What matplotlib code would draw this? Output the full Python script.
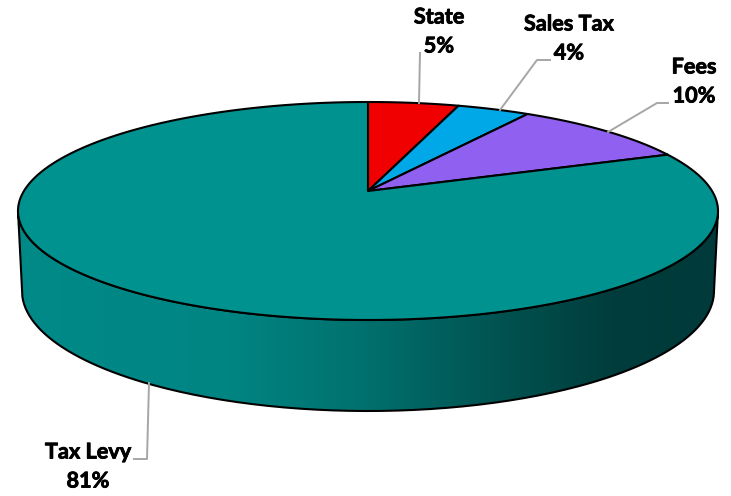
# -*- coding: utf-8 -*-
"""Revenue sources drawn as a tilted 3D pie."""

import numpy as np
import matplotlib
matplotlib.use("Agg")
import matplotlib.pyplot as plt
import matplotlib.patheffects as pe
from matplotlib.colors import LinearSegmentedColormap
from matplotlib.patches import PathPatch, Polygon
from matplotlib.path import Path

labels = ["State", "Sales Tax", "Fees", "Tax Levy"]
shares = [5, 4, 10, 81]
colours = ["#f00000", "#00a8e8", "#9060f0", "#00928f"]

# Pie geometry, in figure pixels
CX = 368.0
APEX_Y = 191.0
TOP_Y = 102.0
BOTTOM_Y = 320.0
HALF_WIDTH = 350.0

# Tilt of the disc: far side is squeezed, near side stretched
ratio = (BOTTOM_Y - APEX_Y) / (APEX_Y - TOP_Y)
tilt = (ratio - 1) / (ratio + 1)
scale_y = (APEX_Y - TOP_Y) * (1 + tilt)
scale_x = HALF_WIDTH * np.sqrt(1 - tilt ** 2)


def rim(theta):
    """Project clockwise-from-top angles on to the top face."""
    u = np.sin(theta)
    v = np.cos(theta)
    w = 1 + tilt * v
    return np.column_stack((CX + scale_x * u / w, APEX_Y - scale_y * v / w))


def wedge_points(start, end):
    theta = np.linspace(start, end, max(int((end - start) * 120), 8))
    return np.vstack(([[CX, APEX_Y]], rim(theta)))


fig = plt.figure(figsize=(7.31, 4.96), dpi=100)
ax = fig.add_axes([0, 0, 1, 1])
ax.set_xlim(0, 731)
ax.set_ylim(496, 0)
ax.axis("off")

# Side wall: lower half of the top rim joined to the bottom rim
t = np.linspace(0, np.pi, 200)
top_cy = (TOP_Y + BOTTOM_Y) / 2
top_b = (BOTTOM_Y - TOP_Y) / 2
top_edge = np.column_stack((CX + HALF_WIDTH * np.cos(t), top_cy + top_b * np.sin(t)))
low_edge = np.column_stack((CX + 346 * np.cos(t[::-1]), 291 + 120 * np.sin(t[::-1])))
side = np.vstack((top_edge, low_edge, top_edge[:1]))
side_path = Path(side)

shade = LinearSegmentedColormap.from_list(
    "side", [(0, "#008a88"), (0.3, "#008583"), (0.5, "#00706d"),
             (0.68, "#005452"), (0.85, "#003d3c"), (1, "#003a3a")])
img = ax.imshow(np.linspace(0, 1, 256)[None, :], cmap=shade, aspect="auto",
                extent=(18, 718, 412, 205), zorder=1)
img.set_clip_path(PathPatch(side_path, transform=ax.transData))
ax.add_patch(PathPatch(side_path, facecolor="none", edgecolor="black",
                       lw=1.5, zorder=2))

# Top face, clockwise from twelve o'clock
edges = np.cumsum([0] + shares) / sum(shares) * 2 * np.pi
for i in range(len(shares)):
    ax.add_patch(Polygon(wedge_points(edges[i], edges[i + 1]), closed=True,
                         facecolor=colours[i], edgecolor="black", lw=1.5,
                         joinstyle="round", zorder=3))

# Leader lines
leaders = [
    [(419, 103), (420, 53)],
    [(500, 110), (537, 60), (550, 60)],
    [(608, 132), (657, 103), (668, 103)],
    [(149, 383), (147, 459), (134, 459)],
]
for line in leaders:
    xs, ys = zip(*line)
    ax.plot(xs, ys, color="#a6a6a6", lw=1.4, zorder=4)

# Category name above its percentage, stroked a little to thicken the bold
heavy = [pe.withStroke(linewidth=0.6, foreground="black")]
label_pos = [(439, 17), (569, 24), (694, 67), (88, 452)]
for name, share, (x, y) in zip(labels, shares, label_pos):
    ax.text(x, y, name, family="Lato", weight="bold", fontsize=15.6,
            ha="center", va="center", color="black", zorder=5, path_effects=heavy)
    ax.text(x, y + 29, f"{share}%", family="Lato", weight="bold", fontsize=15.6,
            ha="center", va="center", color="black", zorder=5, path_effects=heavy)

fig.savefig("out.png", dpi=100)
